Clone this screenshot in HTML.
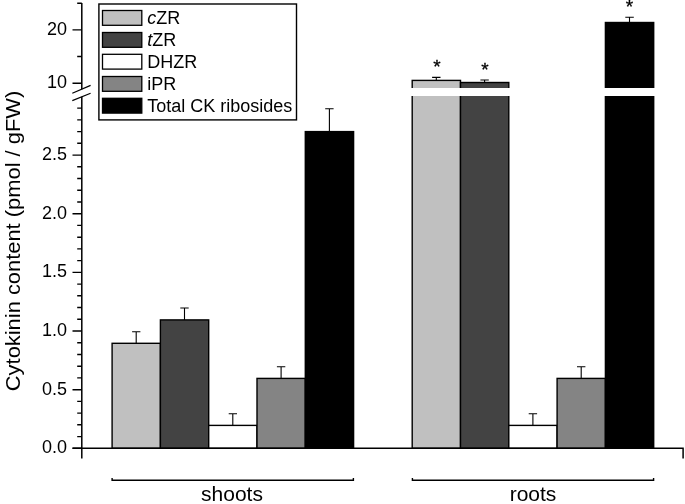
<!DOCTYPE html>
<html><head><meta charset="utf-8"><title>Cytokinin content</title><style>html,body{margin:0;padding:0;background:#fff}</style></head><body>
<svg width="685" height="504" viewBox="0 0 685 504" style="display:block">
<rect width="685" height="504" fill="#fff"/>
<rect x="112.1" y="343.3" width="48.3" height="105.0" fill="#c0c0c0" stroke="#000" stroke-width="1.4"/>
<path d="M136.2 343.3V331.7M132.1 331.7H140.4" stroke="#000" stroke-width="1.1" fill="none"/>
<rect x="160.4" y="319.9" width="48.3" height="128.4" fill="#434343" stroke="#000" stroke-width="1.4"/>
<path d="M184.5 319.9V308.0M180.3 308.0H188.7" stroke="#000" stroke-width="1.1" fill="none"/>
<rect x="208.7" y="425.4" width="48.3" height="22.9" fill="#ffffff" stroke="#000" stroke-width="1.4"/>
<path d="M232.8 425.4V413.8M228.7 413.8H237.0" stroke="#000" stroke-width="1.1" fill="none"/>
<rect x="257.0" y="378.4" width="48.3" height="69.9" fill="#848484" stroke="#000" stroke-width="1.4"/>
<path d="M281.1 378.4V366.8M276.9 366.8H285.3" stroke="#000" stroke-width="1.1" fill="none"/>
<rect x="305.3" y="131.6" width="48.3" height="316.7" fill="#000000" stroke="#000" stroke-width="1.4"/>
<path d="M329.4 131.6V108.8M325.2 108.8H333.6" stroke="#000" stroke-width="1.1" fill="none"/>
<rect x="412.2" y="80.4" width="48.3" height="367.9" fill="#c0c0c0" stroke="#000" stroke-width="1.4"/>
<path d="M436.3 80.4V77.4M432.1 77.4H440.5" stroke="#000" stroke-width="1.1" fill="none"/>
<rect x="460.5" y="82.5" width="48.3" height="365.8" fill="#434343" stroke="#000" stroke-width="1.4"/>
<path d="M484.6 82.5V80.0M480.4 80.0H488.8" stroke="#000" stroke-width="1.1" fill="none"/>
<rect x="508.8" y="425.4" width="48.3" height="22.9" fill="#ffffff" stroke="#000" stroke-width="1.4"/>
<path d="M532.9 425.4V413.8M528.7 413.8H537.1" stroke="#000" stroke-width="1.1" fill="none"/>
<rect x="557.1" y="378.4" width="48.3" height="69.9" fill="#848484" stroke="#000" stroke-width="1.4"/>
<path d="M581.2 378.4V366.8M577.0 366.8H585.4" stroke="#000" stroke-width="1.1" fill="none"/>
<rect x="605.4" y="22.5" width="48.3" height="425.8" fill="#000000" stroke="#000" stroke-width="1.4"/>
<path d="M629.5 22.5V17.2M625.3 17.2H633.8" stroke="#000" stroke-width="1.1" fill="none"/>
<rect x="400" y="88" width="270" height="8" fill="#fff"/>
<path d="M81.8 3.0V89.3M81.8 96.7V458.4M72.5 448.3H683.8M683.1 448.3V458.4" stroke="#000" stroke-width="1.5" fill="none"/>
<path d="M72.5 448.3H81.8M77.2 436.6H81.8M77.2 424.8H81.8M77.2 413.1H81.8M77.2 401.4H81.8M72.5 389.7H81.8M77.2 377.9H81.8M77.2 366.2H81.8M77.2 354.5H81.8M77.2 342.7H81.8M72.5 331.0H81.8M77.2 319.3H81.8M77.2 307.5H81.8M77.2 295.8H81.8M77.2 284.1H81.8M72.5 272.4H81.8M77.2 260.6H81.8M77.2 248.9H81.8M77.2 237.2H81.8M77.2 225.4H81.8M72.5 213.7H81.8M77.2 202.0H81.8M77.2 190.2H81.8M77.2 178.5H81.8M77.2 166.8H81.8M72.5 155.1H81.8M77.2 143.3H81.8M77.2 131.6H81.8M77.2 119.9H81.8M77.2 108.1H81.8M77.2 3.3H81.8M72.5 29.9H81.8M77.2 56.5H81.8M72.5 83.2H81.8" stroke="#000" stroke-width="1.4" fill="none"/>
<path d="M72.3 93.3L90.6 85.4M72.3 100.6L90.6 93.3" stroke="#000" stroke-width="1.2" fill="none"/>
<g font-family="Liberation Sans, Arial, sans-serif" font-size="18" fill="#000" text-anchor="end">
<text x="67" y="453.1">0.0</text>
<text x="67" y="394.5">0.5</text>
<text x="67" y="335.8">1.0</text>
<text x="67" y="277.2">1.5</text>
<text x="67" y="218.5">2.0</text>
<text x="67" y="159.9">2.5</text>
<text x="67" y="34.7">20</text><text x="67" y="88.2">10</text>
</g>
<text transform="translate(20,241) rotate(-90)" textLength="300.4" lengthAdjust="spacingAndGlyphs" font-family="Liberation Sans, Arial, sans-serif" font-size="20" fill="#000" text-anchor="middle">Cytokinin content (pmol / gFW)</text>
<rect x="98.9" y="4" width="197.6" height="115.9" fill="#fff" stroke="#000" stroke-width="1.4"/>
<rect x="102.5" y="10.5" width="39.3" height="14.8" fill="#c0c0c0" stroke="#000" stroke-width="1.3"/>
<text x="147.2" y="24.0" font-family="Liberation Sans, Arial, sans-serif" font-size="18" fill="#000"><tspan font-style="italic">c</tspan>ZR</text>
<rect x="102.5" y="32.5" width="39.3" height="14.8" fill="#434343" stroke="#000" stroke-width="1.3"/>
<text x="147.2" y="46.0" font-family="Liberation Sans, Arial, sans-serif" font-size="18" fill="#000"><tspan font-style="italic">t</tspan>ZR</text>
<rect x="102.5" y="54.3" width="39.3" height="14.8" fill="#ffffff" stroke="#000" stroke-width="1.3"/>
<text x="147.2" y="67.8" font-family="Liberation Sans, Arial, sans-serif" font-size="18" fill="#000">DHZR</text>
<rect x="102.5" y="76.5" width="39.3" height="14.8" fill="#848484" stroke="#000" stroke-width="1.3"/>
<text x="147.2" y="90.0" font-family="Liberation Sans, Arial, sans-serif" font-size="18" fill="#000">iPR</text>
<rect x="102.5" y="98.3" width="39.3" height="14.8" fill="#000000" stroke="#000" stroke-width="1.3"/>
<text x="147.2" y="111.8" font-family="Liberation Sans, Arial, sans-serif" font-size="18" fill="#000">Total CK ribosides</text>
<path d="M112.1 478V480.3H353.4V478M412.4 478V480.3H653.6V478" stroke="#000" stroke-width="1.4" fill="none"/>
<text x="232" y="500.5" font-family="Liberation Sans, Arial, sans-serif" font-size="21" fill="#000" text-anchor="middle">shoots</text>
<text x="533" y="500.5" font-family="Liberation Sans, Arial, sans-serif" font-size="21" fill="#000" text-anchor="middle">roots</text>
<text x="436.9" y="72.95" font-family="Liberation Sans, Arial, sans-serif" font-size="19" stroke="#000" stroke-width="0.3" fill="#000" text-anchor="middle">*</text>
<text x="484.9" y="75.7" font-family="Liberation Sans, Arial, sans-serif" font-size="19" stroke="#000" stroke-width="0.3" fill="#000" text-anchor="middle">*</text>
<text x="629.4" y="12.9" font-family="Liberation Sans, Arial, sans-serif" font-size="19" stroke="#000" stroke-width="0.3" fill="#000" text-anchor="middle">*</text>
</svg>
</body></html>
